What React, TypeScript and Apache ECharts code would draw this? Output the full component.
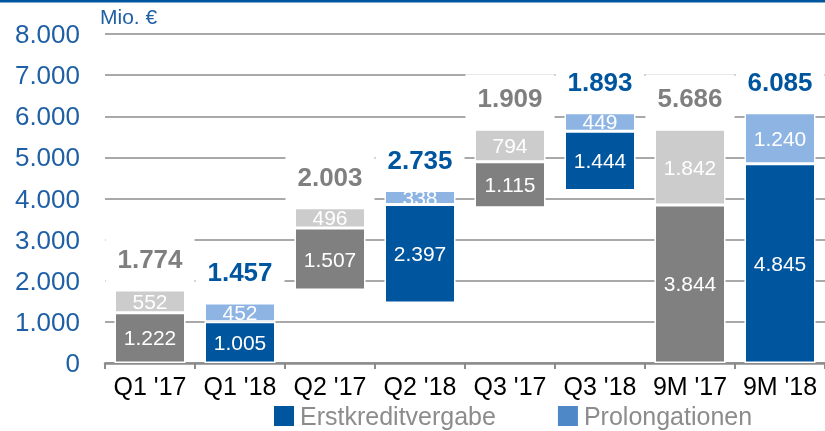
import React, { useEffect, useRef } from "react";
import * as echarts from "echarts";

const categories = ["Q1 '17", "Q1 '18", "Q2 '17", "Q2 '18", "Q3 '17", "Q3 '18", "9M '17", "9M '18"];
const baseOffsets = [0, 0, 1774, 1457, 3777, 4192, 0, 0];
const erstkredit = [1222, 1005, 1507, 2397, 1115, 1444, 3844, 4845];
const prolongation = [552, 452, 496, 338, 794, 449, 1842, 1240];
const totals = [1774, 1457, 2003, 2735, 1909, 1893, 5686, 6085];
const is2018 = [false, true, false, true, false, true, false, true];
const yTicks = [0, 1000, 2000, 3000, 4000, 5000, 6000, 7000, 8000];

const FONT = "'Liberation Sans', Arial, sans-serif";
const BLUE = "#00559F";
const LIGHTBLUE = "#8DB4E2";
const GRAY = "#808080";
const LIGHTGRAY = "#CCCCCC";

function fmt(n: number): string {
  if (n < 1000) return String(n);
  const th = Math.floor(n / 1000);
  const rest = String(n % 1000).padStart(3, "0");
  return th + "." + rest;
}

export default function App() {
  const ref = useRef<HTMLDivElement>(null);
  useEffect(() => {
    if (!ref.current) return;
    const chart = echarts.init(ref.current, undefined, { renderer: "svg" });
    const insideLabel = { show: true, position: "inside", color: "#fff", fontSize: 21, fontFamily: FONT, formatter: (p: any) => fmt(p.value) };
    chart.setOption({
      animation: false,
      textStyle: { fontFamily: FONT },
      grid: { left: 105, right: 0, top: 34, bottom: 68, containLabel: false },
      graphic: [
        { type: "rect", left: 0, top: 0, shape: { x: 0, y: 0, width: 825, height: 2.5 }, style: { fill: BLUE } },
        { type: "text", left: 100, top: 6, style: { text: "Mio. €", font: `21px ${FONT}`, fill: "#1F5FA6" } },
      ],
      legend: {
        left: 267,
        top: 398,
        icon: "rect",
        itemWidth: 22,
        itemHeight: 22,
        itemGap: 60,
        selectedMode: false,
        data: ["Erstkreditvergabe", "Prolongationen"],
        textStyle: { fontSize: 25, color: "#8C8C8C", fontFamily: FONT, lineHeight: 26 },
      },
      xAxis: {
        type: "category",
        data: categories,
        axisLine: { lineStyle: { color: "#8C8C8C", width: 2.5 } },
        axisTick: { show: true, length: 6, lineStyle: { color: "#8C8C8C", width: 2 } },
        axisLabel: { color: "#000", fontSize: 25, fontFamily: FONT, margin: 10, interval: 0 },
      },
      yAxis: {
        type: "value",
        min: 0,
        max: 8000,
        interval: 1000,
        axisLine: { show: false },
        axisTick: { show: false },
        splitLine: { lineStyle: { color: "#8C8C8C", width: 1.5 } },
        axisLabel: {
          color: "#1F5FA6",
          fontSize: 26,
          fontFamily: FONT,
          margin: 25,
          formatter: (v: number) => (yTicks.includes(v) ? fmt(v) : ""),
        },
      },
      series: [
        {
          name: "base",
          type: "bar",
          stack: "s",
          barWidth: 71,
          silent: true,
          itemStyle: { color: "transparent" },
          data: baseOffsets,
        },
        {
          name: "Erstkreditvergabe",
          type: "bar",
          stack: "s",
          barWidth: 71,
          itemStyle: { color: BLUE, borderColor: "#fff", borderWidth: 1.5 },
          label: insideLabel,
          data: erstkredit.map((v, i) => ({ value: v, itemStyle: { color: is2018[i] ? BLUE : GRAY } })),
        },
        {
          name: "Prolongationen",
          type: "bar",
          stack: "s",
          barWidth: 71,
          itemStyle: { color: "#4F88C6", borderColor: "#fff", borderWidth: 1.5 },
          label: insideLabel,
          data: prolongation.map((v, i) => ({ value: v, itemStyle: { color: is2018[i] ? LIGHTBLUE : LIGHTGRAY } })),
        },
        {
          name: "totals",
          type: "scatter",
          symbolSize: 0,
          silent: true,
          z: 5,
          itemStyle: { opacity: 1 },
          data: totals.map((t, i) => ({
            value: [i, baseOffsets[i] + erstkredit[i] + prolongation[i]],
            label: {
              show: true,
              position: "top",
              distance: 7,
              formatter: () => fmt(t),
              fontSize: 26,
              fontWeight: "bold",
              fontFamily: FONT,
              color: is2018[i] ? BLUE : "#7F7F7F",
              backgroundColor: "#fff",
              padding: [11, 12],
              opacity: 1,
            },
          })),
        },
      ],
    });
    return () => chart.dispose();
  }, []);
  return <div ref={ref} style={{ position: "fixed", left: 0, top: 0, width: 825, height: 431 }} />;
}
